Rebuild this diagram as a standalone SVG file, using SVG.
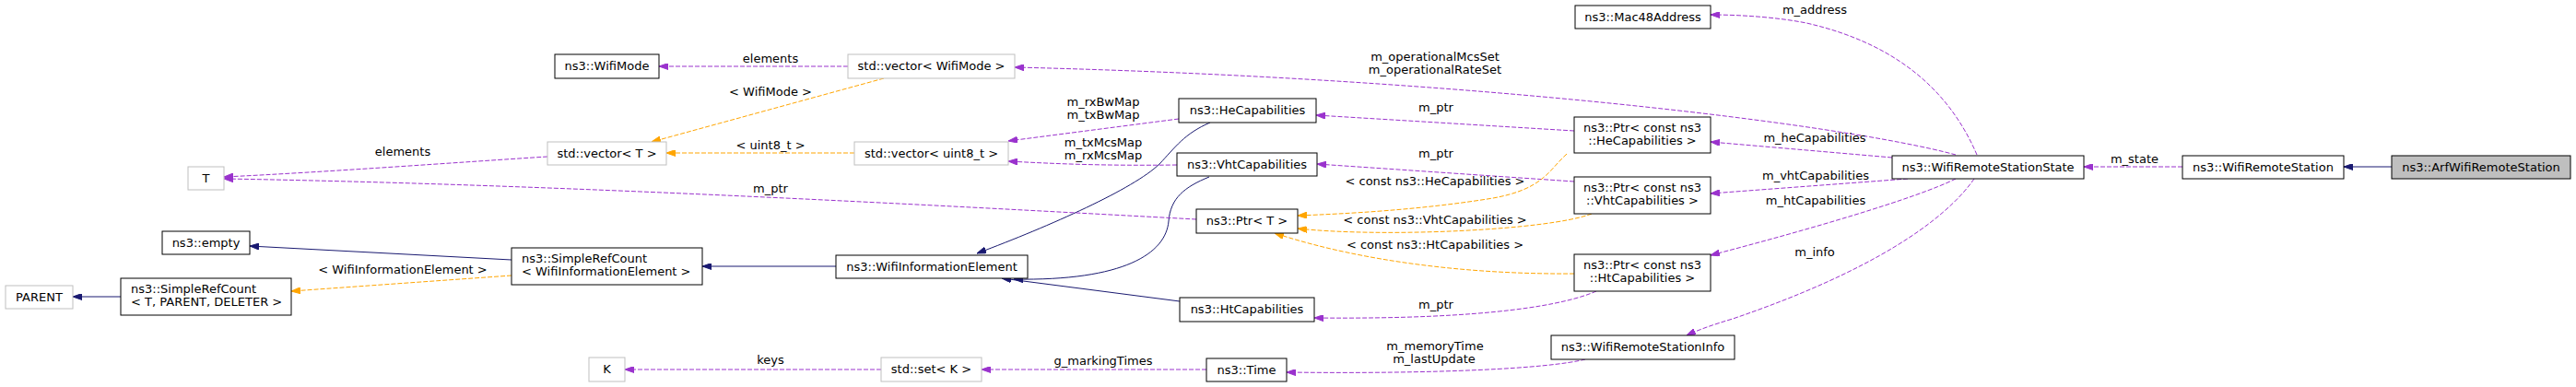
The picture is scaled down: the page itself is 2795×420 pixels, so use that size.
<svg xmlns="http://www.w3.org/2000/svg" width="2795" height="420" viewBox="0 0 2795 420">
<style>
.n rect{fill:#fff;stroke:#000;stroke-width:1}
.n.u rect{stroke:#bfbfbf}
.n.cur rect{fill:#bfbfbf}
text{font-family:"DejaVu Sans","Liberation Sans",sans-serif;font-size:13px;fill:#000}
.c{text-anchor:middle}
.e path{fill:none;stroke-width:1}
.p{stroke:#9a32cd;stroke-dasharray:5,2}
.o{stroke:#ffa500;stroke-dasharray:5,2}
.b{stroke:#191970}
.p{marker-end:url(#ap)}
.o{marker-end:url(#ao)}
.b{marker-end:url(#ab)}
</style>
<defs>
<marker id="ap" viewBox="0 0 10 7" refX="10" refY="3.5" markerWidth="10" markerHeight="7" markerUnits="userSpaceOnUse" orient="auto"><path d="M0,0 L10,3.5 L0,7 Z" fill="#9a32cd" stroke="#9a32cd"/></marker>
<marker id="ao" viewBox="0 0 10 7" refX="10" refY="3.5" markerWidth="10" markerHeight="7" markerUnits="userSpaceOnUse" orient="auto"><path d="M0,0 L10,3.5 L0,7 Z" fill="#ffa500" stroke="#ffa500"/></marker>
<marker id="ab" viewBox="0 0 10 7" refX="10" refY="3.5" markerWidth="10" markerHeight="7" markerUnits="userSpaceOnUse" orient="auto"><path d="M0,0 L10,3.5 L0,7 Z" fill="#191970" stroke="#191970"/></marker>
</defs>
<rect width="2795" height="420" fill="#fff"/>
<g id="connectors" class="e">
<path class="b" d="M2595,181 L2543,181"/>
<path class="b" d="M907,289 L762,289"/>
<path class="b" d="M555,282 L271,267"/>
<path class="b" d="M131,322 L79,322"/>
<path class="b" d="M1313,133 C1285,145 1275,160 1258,178 C1230,205 1140,245 1060,275"/>
<path class="b" d="M1312,192 C1285,203 1270,215 1268,240 C1265,275 1220,305 1100,303"/>
<path class="b" d="M1280,327 L1087,302"/>
<path class="p" d="M2368,181 L2261,181"/>
<path class="p" d="M2145,168 C2120,110 2070,50 1960,25 C1930,19 1890,16 1856,16"/>
<path class="p" d="M2122,168 C2000,135 1600,85 1101,73"/>
<path class="p" d="M2053,171 L1856,154"/>
<path class="p" d="M2070,194 L1856,210"/>
<path class="p" d="M2122,194 C2080,215 1960,250 1856,277"/>
<path class="p" d="M2142,194 C2110,240 2030,295 1880,346 C1860,352 1845,357 1830,364"/>
<path class="p" d="M1708,142 L1428,125"/>
<path class="p" d="M1708,197 L1429,178"/>
<path class="p" d="M1732,316 C1700,330 1620,347 1426,345"/>
<path class="p" d="M1720,390 C1680,400 1560,406 1396,404"/>
<path class="p" d="M1309,401 L1065,401"/>
<path class="p" d="M956,401 L678,401"/>
<path class="p" d="M1279,129 L1094,153"/>
<path class="p" d="M1277,179 C1200,180 1150,178 1094,175"/>
<path class="p" d="M920,72 L715,72"/>
<path class="p" d="M1298,238 C1000,222 600,200 243,194"/>
<path class="p" d="M594,170 C500,176 350,187 243,192"/>
<path class="o" d="M959,85 L707,154"/>
<path class="o" d="M927,166 L723,166"/>
<path class="o" d="M555,299 L316,316"/>
<path class="o" d="M1700,167 C1680,185 1675,205 1620,215 C1540,228 1460,232 1408,234"/>
<path class="o" d="M1727,232 C1680,250 1500,258 1408,248"/>
<path class="o" d="M1708,297 C1600,298 1480,285 1383,253"/>
<text class="c" x="2316" y="177">m_state</text>
<text class="c" x="1969" y="15">m_address</text>
<text class="c" x="1969" y="154">m_heCapabilities</text>
<text class="c" x="1970" y="195">m_vhtCapabilities</text>
<text class="c" x="1970" y="222">m_htCapabilities</text>
<text class="c" x="1969" y="278">m_info</text>
<text class="c" x="1557" y="66">m_operationalMcsSet</text>
<text class="c" x="1557" y="80">m_operationalRateSet</text>
<text class="c" x="1558" y="121">m_ptr</text>
<text class="c" x="1558" y="171">m_ptr</text>
<text class="c" x="1558" y="335">m_ptr</text>
<text class="c" x="1557" y="201">&lt; const ns3::HeCapabilities &gt;</text>
<text class="c" x="1557" y="243">&lt; const ns3::VhtCapabilities &gt;</text>
<text class="c" x="1557" y="270">&lt; const ns3::HtCapabilities &gt;</text>
<text class="c" x="1557" y="380">m_memoryTime</text>
<text class="c" x="1556" y="394">m_lastUpdate</text>
<text class="c" x="1197" y="115">m_rxBwMap</text>
<text class="c" x="1197" y="129">m_txBwMap</text>
<text class="c" x="1197" y="159">m_txMcsMap</text>
<text class="c" x="1197" y="173">m_rxMcsMap</text>
<text class="c" x="1197" y="396">g_markingTimes</text>
<text class="c" x="836" y="68">elements</text>
<text class="c" x="836" y="104">&lt; WifiMode &gt;</text>
<text class="c" x="836" y="162">&lt; uint8_t &gt;</text>
<text class="c" x="836" y="209">m_ptr</text>
<text class="c" x="836" y="395">keys</text>
<text class="c" x="437" y="169">elements</text>
<text class="c" x="437" y="297">&lt; WifiInformationElement &gt;</text>
</g>
<g id="node-arf" class="n cur"><rect x="2595" y="169" width="194" height="25"/><text class="c" x="2692" y="186">ns3::ArfWifiRemoteStation</text></g>
<g id="node-wrs" class="n"><rect x="2368" y="169" width="175" height="25"/><text class="c" x="2455.5" y="186">ns3::WifiRemoteStation</text></g>
<g id="node-wrss" class="n"><rect x="2053" y="169" width="208" height="25"/><text class="c" x="2157" y="186">ns3::WifiRemoteStationState</text></g>
<g id="node-mac48" class="n"><rect x="1709" y="6" width="147" height="25"/><text class="c" x="1782.5" y="23">ns3::Mac48Address</text></g>
<g id="node-ptrhe" class="n"><rect x="1708" y="127" width="148" height="39"/><text class="c" x="1782" y="143">ns3::Ptr&lt; const ns3</text><text class="c" x="1782" y="157">::HeCapabilities &gt;</text></g>
<g id="node-ptrvht" class="n"><rect x="1708" y="192" width="148" height="40"/><text class="c" x="1782" y="208">ns3::Ptr&lt; const ns3</text><text class="c" x="1782" y="222">::VhtCapabilities &gt;</text></g>
<g id="node-ptrht" class="n"><rect x="1708" y="276" width="148" height="40"/><text class="c" x="1782" y="292">ns3::Ptr&lt; const ns3</text><text class="c" x="1782" y="306">::HtCapabilities &gt;</text></g>
<g id="node-wrsinfo" class="n"><rect x="1683" y="364" width="199" height="26"/><text class="c" x="1782.5" y="381">ns3::WifiRemoteStationInfo</text></g>
<g id="node-hecap" class="n"><rect x="1279" y="107" width="149" height="26"/><text class="c" x="1353.5" y="124">ns3::HeCapabilities</text></g>
<g id="node-vhtcap" class="n"><rect x="1277" y="166" width="152" height="25"/><text class="c" x="1353" y="183">ns3::VhtCapabilities</text></g>
<g id="node-htcap" class="n"><rect x="1280" y="323" width="146" height="26"/><text class="c" x="1353" y="340">ns3::HtCapabilities</text></g>
<g id="node-ptrt" class="n"><rect x="1298" y="227" width="110" height="26"/><text class="c" x="1353" y="244">ns3::Ptr&lt; T &gt;</text></g>
<g id="node-time" class="n"><rect x="1309" y="389" width="87" height="25"/><text class="c" x="1352.5" y="406">ns3::Time</text></g>
<g id="node-vecmode" class="n u"><rect x="920" y="59" width="181" height="26"/><text class="c" x="1010.5" y="76">std::vector&lt; WifiMode &gt;</text></g>
<g id="node-vecu8" class="n u"><rect x="927" y="154" width="167" height="25"/><text class="c" x="1010.5" y="171">std::vector&lt; uint8_t &gt;</text></g>
<g id="node-wie" class="n"><rect x="907" y="277" width="208" height="25"/><text class="c" x="1011" y="294">ns3::WifiInformationElement</text></g>
<g id="node-setk" class="n u"><rect x="956" y="388" width="109" height="26"/><text class="c" x="1010.5" y="405">std::set&lt; K &gt;</text></g>
<g id="node-wifimode" class="n"><rect x="602" y="59" width="113" height="26"/><text class="c" x="658.5" y="76">ns3::WifiMode</text></g>
<g id="node-vect" class="n u"><rect x="594" y="154" width="129" height="25"/><text class="c" x="658.5" y="171">std::vector&lt; T &gt;</text></g>
<g id="node-srcwie" class="n"><rect x="555" y="269" width="207" height="40"/><text x="566" y="285">ns3::SimpleRefCount</text><text x="566" y="299">&lt; WifiInformationElement &gt;</text></g>
<g id="node-k" class="n u"><rect x="639" y="388" width="39" height="26"/><text class="c" x="658.5" y="405">K</text></g>
<g id="node-t" class="n u"><rect x="204" y="181" width="39" height="25"/><text class="c" x="223.5" y="198">T</text></g>
<g id="node-empty" class="n"><rect x="176" y="251" width="95" height="25"/><text class="c" x="223.5" y="268">ns3::empty</text></g>
<g id="node-srctpd" class="n"><rect x="131" y="302" width="185" height="40"/><text x="142" y="318">ns3::SimpleRefCount</text><text x="142" y="332">&lt; T, PARENT, DELETER &gt;</text></g>
<g id="node-parent" class="n u"><rect x="6" y="310" width="73" height="25"/><text class="c" x="42.5" y="327">PARENT</text></g>
</svg>
